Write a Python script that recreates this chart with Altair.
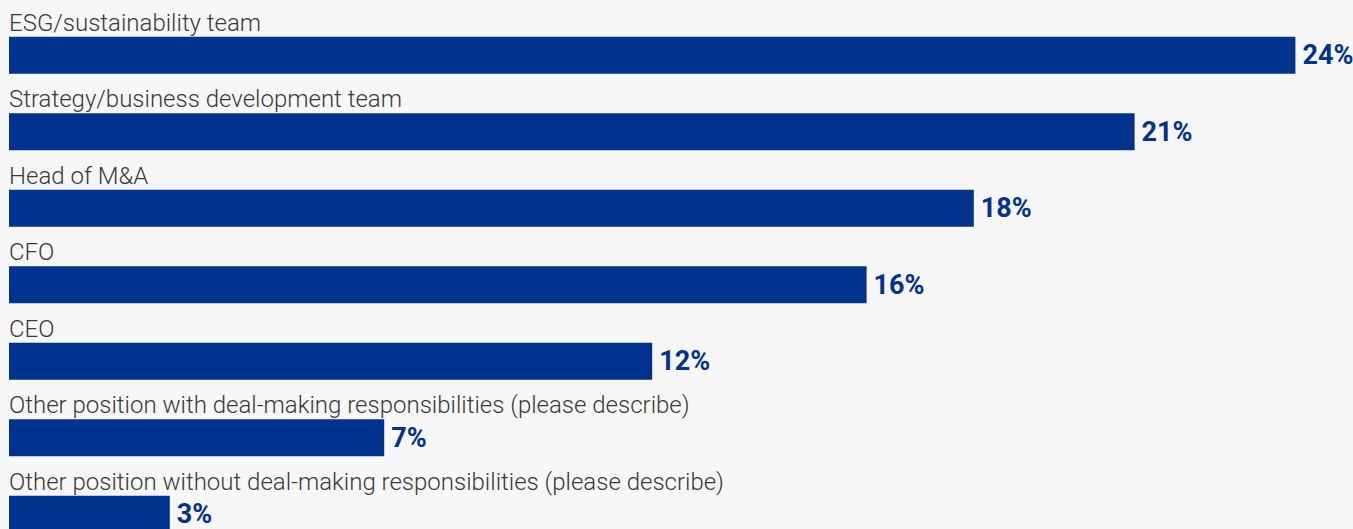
import altair as alt
import pandas as pd

categories = [
    "ESG/sustainability team",
    "Strategy/business development team",
    "Head of M&A",
    "CFO",
    "CEO",
    "Other position with deal-making responsibilities (please describe)",
    "Other position without deal-making responsibilities (please describe)",
]
values = [24, 21, 18, 16, 12, 7, 3]
value_labels = ["24%", "21%", "18%", "16%", "12%", "7%", "3%"]

df = pd.DataFrame({"cat": categories, "val": values, "lab": value_labels})

BLUE = "#00338D"

y_enc = alt.Y(
    "cat:N",
    sort=categories,
    axis=None,
    scale=alt.Scale(range=[36.8, 532.8], paddingInner=0.516, paddingOuter=0),
)
x_enc = alt.X("val:Q", axis=None, scale=alt.Scale(domain=[0, 25], nice=False))

bars = alt.Chart(df).mark_bar(color=BLUE).encode(x=x_enc, y=y_enc)

vals = alt.Chart(df).mark_text(
    align="left", baseline="middle", dx=7, dy=1,
    font="Roboto",
    fontWeight="bold", fontSize=27, color=BLUE,
).encode(x=x_enc, y=y_enc, text="lab:N")

cats = alt.Chart(df).mark_text(
    align="left", baseline="alphabetic", dy=-24.5,
    font="Roboto", fontWeight=300, fontSize=24, color="#3a3a3a",
).encode(x=alt.value(0), y=y_enc, text="cat:N")

chart = (
    alt.layer(bars, vals, cats)
    .properties(
        width=1340, height=529,
        autosize=alt.AutoSizeParams(type="none"),
        padding={"left": 9, "top": 0, "right": 4, "bottom": 0},
        background="#f7f7f7",
    )
    .configure_view(stroke=None)
)

chart.save("out.html", embed_options={"renderer": "svg", "actions": False})
